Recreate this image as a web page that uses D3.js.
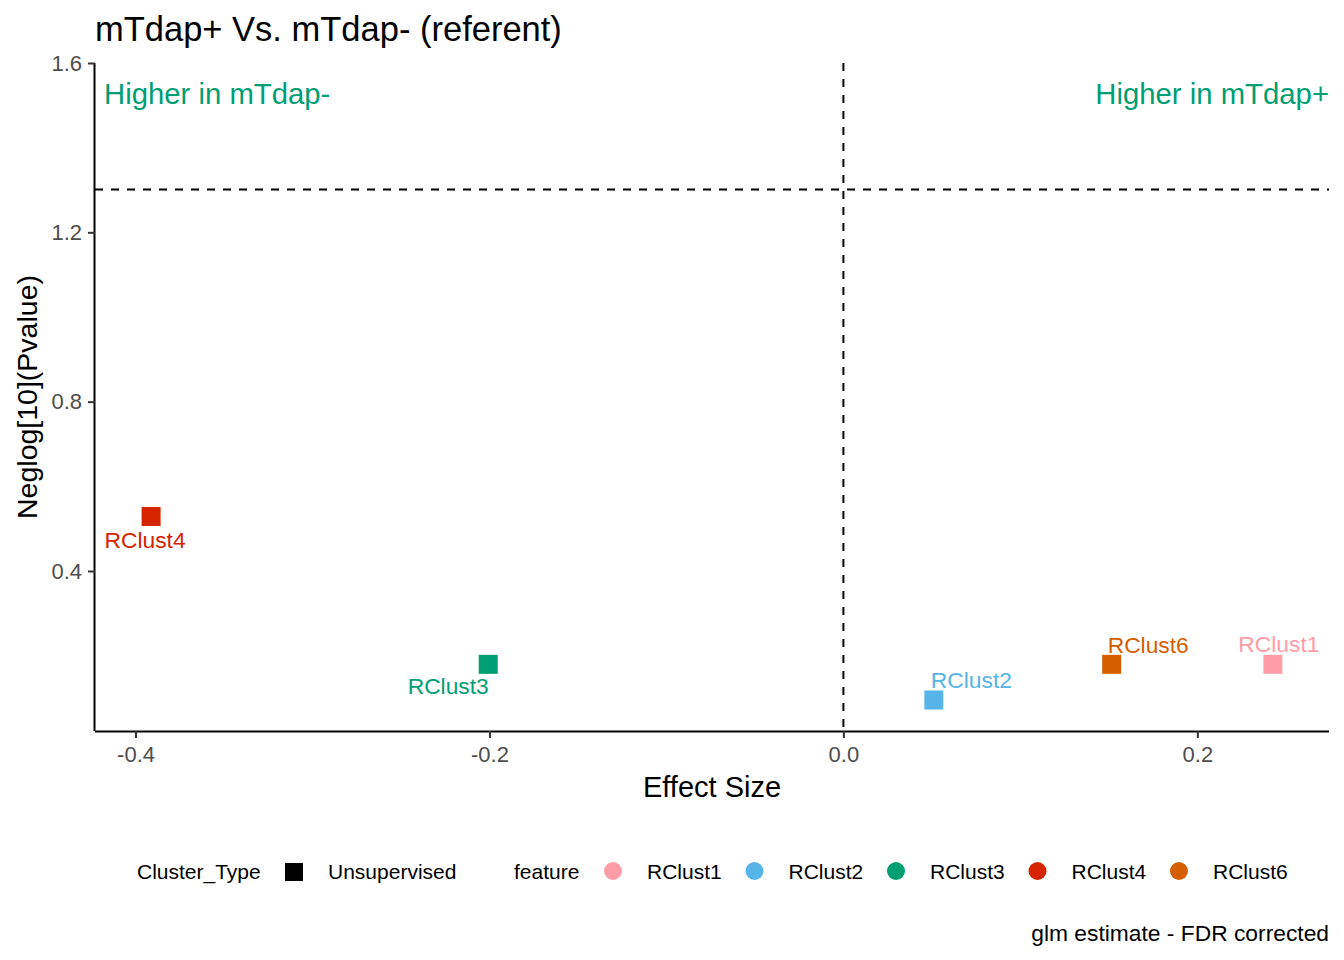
<!DOCTYPE html>
<html><head><meta charset="utf-8">
<script src="https://cdn.jsdelivr.net/npm/d3@7"></script>
<style>body{margin:0;background:#fff;} svg{display:block;font-family:"Liberation Sans",Arial,sans-serif;}</style>
</head><body><svg id="c" width="1344" height="960"></svg>
<script>
const features = ["RClust1","RClust2","RClust3","RClust4","RClust6"];
const effectSize = [0.2427, 0.0511, -0.2007, -0.3912, 0.1516];
const negLogP = [0.1795, 0.0952, 0.1795, 0.5287, 0.1795];
const featureColors = ["#FF9DA7","#56B4E9","#009E73","#D62300","#D55E00"];
const xTicks = [-0.4,-0.2,0.0,0.2];
const yTicks = [0.4,0.8,1.2,1.6];
const pThreshold = 1.30103;
// label placement (pixel offsets from point, text-anchor)
const labelOffsets = [[6,-12,"middle"],[-3,-12,"start"],[-40,30,"middle"],[-6,31,"middle"],[-4,-11,"start"]];

const svg = d3.select("#c");
const L=95, R=1329, T=63, B=731;
const x = d3.scaleLinear().domain([-0.4229,0.2744]).range([L,R]);
const y = d3.scaleLinear().domain([0.022,1.6]).range([B,T]);
const fmt = d => d3.format(".1f")(d).replace("\u2212","-");

// title
svg.append("text").attr("x",95).attr("y",41).attr("font-size",34.5).attr("fill","#000").text("mTdap+ Vs. mTdap- (referent)");

// ref lines
svg.append("line").attr("x1",L).attr("x2",R).attr("y1",y(pThreshold)).attr("y2",y(pThreshold))
  .attr("stroke","#000").attr("stroke-width",2).attr("stroke-dasharray","8,8");
svg.append("line").attr("x1",x(0)).attr("x2",x(0)).attr("y1",T).attr("y2",B)
  .attr("stroke","#000").attr("stroke-width",2).attr("stroke-dasharray","8,8");

// axes
const xa = svg.append("g").attr("transform",`translate(0,${B})`)
  .call(d3.axisBottom(x).tickValues(xTicks).tickFormat(fmt).tickSize(7).tickPadding(8));
const ya = svg.append("g").attr("transform",`translate(${L},0)`)
  .call(d3.axisLeft(y).tickValues(yTicks).tickFormat(fmt).tickSize(7).tickPadding(6));
[xa,ya].forEach(a=>{
  a.select(".domain").attr("stroke","#000").attr("stroke-width",2);
  a.selectAll(".tick line").attr("stroke","#333").attr("stroke-width",2);
  a.selectAll(".tick text").attr("fill","#4D4D4D").attr("font-size",22).attr("font-family","Liberation Sans, Arial, sans-serif");
});
xa.select(".domain").attr("d",`M${L},0.5H${R}`);
ya.select(".domain").attr("d",`M-0.5,${B}V${T}`);

// axis titles
svg.append("text").attr("x",(L+R)/2).attr("y",797).attr("text-anchor","middle").attr("font-size",29).text("Effect Size");
svg.append("text").attr("transform",`translate(37,${(T+B)/2}) rotate(-90)`).attr("text-anchor","middle").attr("font-size",28.5).text("Neglog[10](Pvalue)");

// annotations
svg.append("text").attr("x",104).attr("y",104).attr("font-size",29.3).attr("fill","#009E73").text("Higher in mTdap-");
svg.append("text").attr("x",1329).attr("y",104).attr("text-anchor","end").attr("font-size",29.3).attr("fill","#009E73").text("Higher in mTdap+");

// points
const s=19;
features.forEach((f,i)=>{
  const cx=x(effectSize[i]), cy=y(negLogP[i]);
  svg.append("rect").attr("x",cx-s/2).attr("y",cy-s/2).attr("width",s).attr("height",s).attr("fill",featureColors[i]);
  const o=labelOffsets[i];
  svg.append("text").attr("x",cx+o[0]).attr("y",cy+o[1]).attr("text-anchor",o[2]).attr("font-size",22.8).attr("fill",featureColors[i]).text(f);
});

// legend
const ly=872;
const lg=svg.append("g").attr("font-size",21);
lg.append("text").attr("x",137).attr("y",ly+7).text("Cluster_Type");
lg.append("rect").attr("x",285).attr("y",ly-9).attr("width",18).attr("height",18).attr("fill","#000");
lg.append("text").attr("x",328).attr("y",ly+7).text("Unsupervised");
lg.append("text").attr("x",514).attr("y",ly+7).text("feature");
features.forEach((f,i)=>{
  const cx=613+i*141.5;
  lg.append("circle").attr("cx",cx).attr("cy",ly-1).attr("r",9).attr("fill",featureColors[i]);
  lg.append("text").attr("x",cx+34).attr("y",ly+7).text(f);
});

// caption
svg.append("text").attr("x",1329).attr("y",941).attr("text-anchor","end").attr("font-size",22.8).text("glm estimate - FDR corrected");
</script></body></html>
